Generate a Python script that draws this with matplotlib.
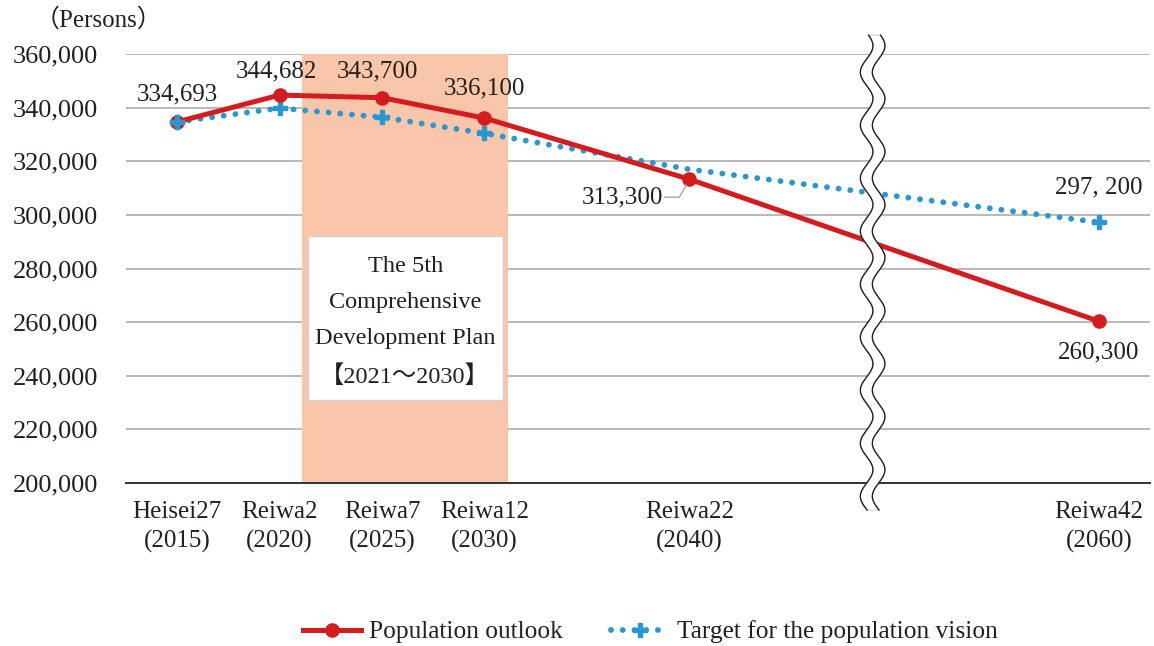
import numpy as np
import matplotlib
matplotlib.use("Agg")
import matplotlib.pyplot as plt
from matplotlib.patches import Rectangle, Polygon
from matplotlib.lines import Line2D
from matplotlib.transforms import blended_transform_factory, IdentityTransform

plt.rcParams['font.family'] = ['Liberation Serif', 'Noto Sans CJK JP', 'DejaVu Sans']

# ---- data ----
years = [2015, 2020, 2025, 2030, 2040, 2060]
tick_labels = ["Heisei27\n(2015)", "Reiwa2\n(2020)", "Reiwa7\n(2025)",
               "Reiwa12\n(2030)", "Reiwa22\n(2040)", "Reiwa42\n(2060)"]
outlook = [334693, 344682, 343700, 336100, 313300, 260300]
target = [334693, 339800, 336400, 330400, 317000, 297200]
outlook_labels = ["334,693", "344,682", "343,700", "336,100", "313,300", "260,300"]
target_label = "297, 200"
plan_start, plan_end = 2021.1, 2031.15

RED = '#d41c1e'
BLUE = '#2a97d2'
SHADE = '#f9c6aa'
TXT = '#231f20'
FS_TICK = 19
FS_LAB = 18
FS_BOX = 17.5
FS_LEG = 18.3

fig = plt.figure(figsize=(11.54, 6.46), dpi=100)
ax = fig.add_axes([126/1154, 1-483/646, 1024/1154, 429/646])
ax.set_xlim(2012.5, 2062.49)
ax.set_ylim(200000, 360000)
ax.set_axisbelow(True)

yt = np.arange(200000, 360001, 20000)
ax.set_yticks(yt)
ax.set_yticklabels([f"{v:,}" for v in yt], fontsize=FS_TICK, color=TXT)
ax.set_xticks(years)
ax.set_xticklabels(tick_labels, fontsize=FS_LAB, color=TXT, linespacing=1.4)
ax.tick_params(axis='both', length=0)
ax.tick_params(axis='y', pad=20)
ax.tick_params(axis='x', pad=13)
ax.yaxis.grid(True, color='#a6a6a6', lw=1.1, zorder=0.5)
for s in ['left', 'right', 'top']:
    ax.spines[s].set_visible(False)
ax.spines['bottom'].set_color('#333333')
ax.spines['bottom'].set_linewidth(1.4)
ax.spines['bottom'].set_zorder(3)

# plan shading
ax.axvspan(plan_start, plan_end, color=SHADE, lw=0, zorder=1)

# text box
ax.add_patch(Rectangle((2021.39, 230900), 2030.91-2021.39, 292090-230900,
                       facecolor='white', edgecolor='#d0d0d0', lw=1.0, zorder=2))
ax.text(2026.13, 260000, "The 5th\nComprehensive\nDevelopment Plan\n【2021～2030】",
        ha='center', va='center', fontsize=FS_BOX, linespacing=1.92, color=TXT, zorder=3)

# lines
ax.plot(years, target, color=BLUE, lw=4.2, linestyle=(0, (0.01, 2.0)),
        dash_capstyle='round', marker='P', markersize=10, markevery=[0, 1, 2, 3, 5],
        zorder=4, label='Target for the population vision')
ax.plot(years, outlook, color=RED, lw=3.6, marker='o', markersize=9.5,
        zorder=5, label='Population outlook')
ax.plot(years[:1], target[:1], color=BLUE, lw=0, marker='P', markersize=10, zorder=6)

# data labels
offs = [(0, 19.4), (-2, 17), (-3, 19), (0, 21), None, (0, -22.5)]
for x, y, t, o in zip(years, outlook, outlook_labels, offs):
    if o is None:
        continue
    ax.annotate(t, (x, y), xytext=o, textcoords='offset points', ha='center',
                va='center', fontsize=FS_LAB, color=TXT, zorder=7)
ax.annotate(outlook_labels[4], (years[4], outlook[4]), xytext=(-19.0, -13),
            textcoords='offset points', ha='right', va='center', fontsize=FS_LAB,
            color=TXT, zorder=7)
ax.annotate(target_label, (years[5], target[5]), xytext=(0, 25),
            textcoords='offset points', ha='center', va='center', fontsize=FS_LAB,
            color=TXT, zorder=7)

# leader line for 313,300 (display pixel offsets from the point)
px, py = ax.transData.transform((years[4], outlook[4]))
lx = [px - 25, px - 10, px - 3]
ly = [py - 18, py - 18, py - 6]
fig.add_artist(Line2D(lx, ly, transform=IdentityTransform(), color='#a6a6a6', lw=1.0))

# axis break (wavy double line)
bt = blended_transform_factory(ax.transData, ax.transAxes)
xc = 2048.95
ppy = 1024 / (2062.49 - 2012.5)  # px per year
yy = np.linspace(1.044, -0.063, 400)
ypix = yy * 429
wave = 6.3 / ppy * np.sin(2 * np.pi * ypix / 53.0)
half = 6.0 / ppy
left = xc - half + wave
right = xc + half + wave
poly = np.vstack([np.column_stack([left, yy]), np.column_stack([right[::-1], yy[::-1]])])
ax.add_patch(Polygon(poly, closed=True, facecolor='white', edgecolor='#bbbbbb', lw=0.6,
                     transform=bt, clip_on=False, zorder=8))
ax.plot(left, yy, color=TXT, lw=1.0, transform=bt, clip_on=False, zorder=9)
ax.plot(right, yy, color=TXT, lw=1.0, transform=bt, clip_on=False, zorder=9)

# unit label
fig.text(98/1154, 1-20/646, "（Persons）", ha='center', va='center', fontsize=FS_LAB,
         color=TXT)

# legend
h_red = Line2D([], [], color=RED, lw=3.6, marker='o', markersize=9.5)
h_blue = Line2D([], [], color=BLUE, lw=4.2, linestyle=(0, (0.01, 2.0)),
                dash_capstyle='round', marker='P', markersize=10)
fig.legend([h_red, h_blue], ['Population outlook', 'Target for the population vision'],
           loc='center', bbox_to_anchor=(0.5635, 1-632/646), ncol=2, frameon=False,
           fontsize=FS_LEG, handlelength=2.3, columnspacing=1.9, handletextpad=0.3,
           labelcolor=TXT)

fig.savefig('out.png', dpi=100)
